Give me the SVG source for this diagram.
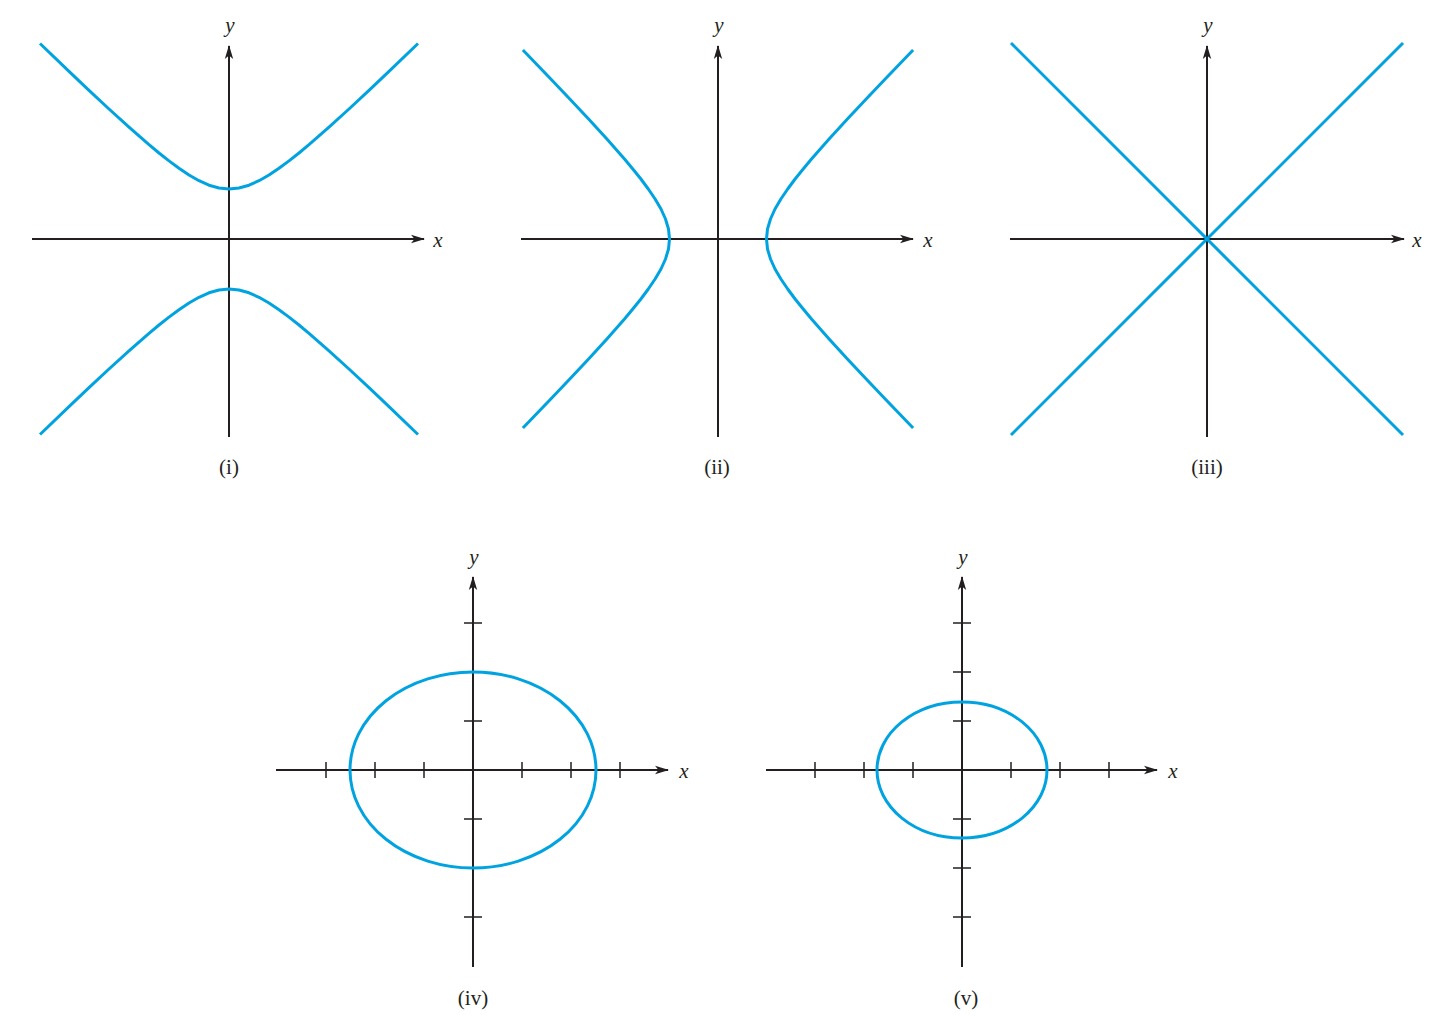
<svg xmlns="http://www.w3.org/2000/svg" width="1442" height="1028" viewBox="0 0 1442 1028">
<style>
.ax{stroke:#231f20;stroke-width:2;fill:none}
.tk{stroke:#231f20;stroke-width:1.5;fill:none}
.cv{stroke:#00a3e0;stroke-width:3;fill:none;stroke-linejoin:round;stroke-linecap:butt}
.lv{font-family:"Liberation Serif","DejaVu Serif",serif;font-style:italic;font-size:21px;fill:#231f20;text-anchor:middle}
.lb{font-family:"Liberation Serif","DejaVu Serif",serif;font-size:21px;fill:#231f20;text-anchor:middle}
</style>
<defs>
<marker id="ah" viewBox="0 0 14 10" refX="13" refY="5" markerWidth="14" markerHeight="10" markerUnits="userSpaceOnUse" orient="auto">
<path d="M0,0.8 L14,5 L0,9.2 L3.5,5 Z" fill="#231f20"/>
</marker>
</defs>

<g id="panel-i">
<line class="ax" x1="32" y1="239" x2="424" y2="239" marker-end="url(#ah)"/>
<line class="ax" x1="229" y1="437" x2="229" y2="46" marker-end="url(#ah)"/>
<polyline class="cv" points="40,43.5 69,71.4 89,90.3 109,109 129,127.2 149,144.7 159,153 169,160.9 179,168.3 189,175 199,180.7 209,185.2 219,188 229,189 239,188 249,185.2 259,180.7 269,175 279,168.3 289,160.9 299,153 309,144.7 329,127.2 349,109 369,90.3 389,71.4 418,43.5"/>
<polyline class="cv" points="40,434.5 69,406.6 89,387.7 109,369 129,350.8 149,333.3 159,325 169,317.1 179,309.7 189,303 199,297.3 209,292.8 219,290 229,289 239,290 249,292.8 259,297.3 269,303 279,309.7 289,317.1 299,325 309,333.3 329,350.8 349,369 369,387.7 389,406.6 418,434.5"/>
<text class="lv" x="230" y="32">y</text>
<text class="lv" x="438" y="247">x</text>
<text class="lb" x="229" y="474">(i)</text>
</g>

<g id="panel-ii">
<line class="ax" x1="521" y1="239" x2="913" y2="239" marker-end="url(#ah)"/>
<line class="ax" x1="718" y1="437" x2="718" y2="46" marker-end="url(#ah)"/>
<polyline class="cv" points="522.9,50 550.8,79 569.8,99 588.6,119 606.9,139 624.5,159 632.8,169 640.9,179 648.3,189 655.1,199 661,209 665.5,219 668.5,229 669.5,239 668.5,249 665.5,259 661,269 655.1,279 648.3,289 640.9,299 632.8,309 624.5,319 606.9,339 588.6,359 569.8,379 550.8,399 522.9,428"/>
<polyline class="cv" points="913.1,50 885.2,79 866.2,99 847.4,119 829.1,139 811.5,159 803.2,169 795.1,179 787.7,189 780.9,199 775,209 770.5,219 767.5,229 766.5,239 767.5,249 770.5,259 775,269 780.9,279 787.7,289 795.1,299 803.2,309 811.5,319 829.1,339 847.4,359 866.2,379 885.2,399 913.1,428"/>
<text class="lv" x="719" y="32">y</text>
<text class="lv" x="928" y="247">x</text>
<text class="lb" x="717" y="474">(ii)</text>
</g>

<g id="panel-iii">
<line class="ax" x1="1010" y1="239" x2="1404" y2="239" marker-end="url(#ah)"/>
<line class="ax" x1="1207" y1="437" x2="1207" y2="46" marker-end="url(#ah)"/>
<line class="cv" x1="1011" y1="43" x2="1403" y2="435"/>
<line class="cv" x1="1403" y1="43" x2="1011" y2="435"/>
<text class="lv" x="1208" y="32">y</text>
<text class="lv" x="1417" y="247">x</text>
<text class="lb" x="1207" y="474">(iii)</text>
</g>

<g id="panel-iv">
<line class="ax" x1="276" y1="770" x2="668" y2="770" marker-end="url(#ah)"/>
<line class="ax" x1="473" y1="967" x2="473" y2="577" marker-end="url(#ah)"/>
<path class="tk" d="M326,762V778M375,762V778M424,762V778M522,762V778M571,762V778M620,762V778M464,623H482M464,672H482M464,721H482M464,819H482M464,868H482M464,917H482"/>
<ellipse class="cv" cx="473" cy="770" rx="123" ry="98"/>
<text class="lv" x="474" y="564">y</text>
<text class="lv" x="684" y="778">x</text>
<text class="lb" x="473" y="1005">(iv)</text>
</g>

<g id="panel-v">
<line class="ax" x1="766" y1="770" x2="1157" y2="770" marker-end="url(#ah)"/>
<line class="ax" x1="962" y1="967" x2="962" y2="577" marker-end="url(#ah)"/>
<path class="tk" d="M815,762V778M864,762V778M913,762V778M1011,762V778M1060,762V778M1109,762V778M953,623H971M953,672H971M953,721H971M953,819H971M953,868H971M953,917H971"/>
<ellipse class="cv" cx="962" cy="770" rx="85" ry="68"/>
<text class="lv" x="963" y="564">y</text>
<text class="lv" x="1173" y="778">x</text>
<text class="lb" x="966" y="1005">(v)</text>
</g>
</svg>
